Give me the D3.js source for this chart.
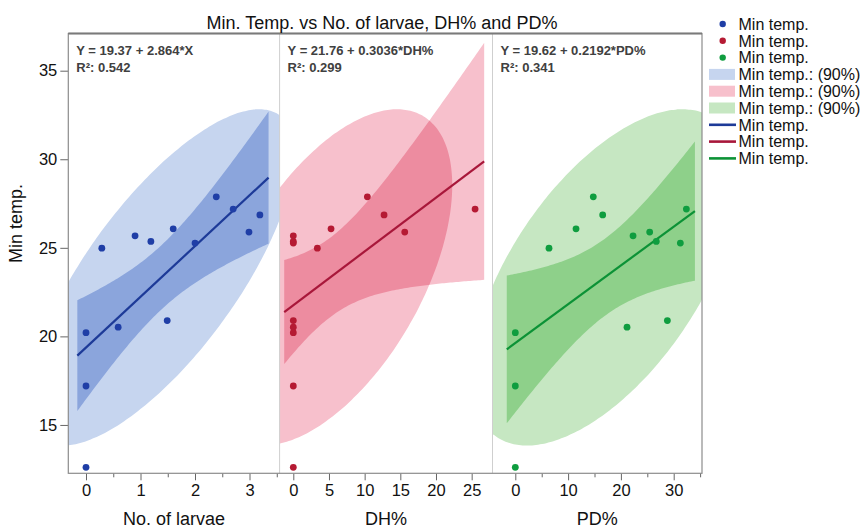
<!DOCTYPE html>
<html><head><meta charset="utf-8">
<script src="https://cdn.jsdelivr.net/npm/d3@7"></script>
<style>
body{margin:0;background:#fff}
svg{display:block}
text{font-family:"Liberation Sans",Arial,Helvetica,sans-serif}
</style>
</head><body>
<svg id="chart" width="865" height="528"></svg>
<script>
// ---------------- data ----------------
const minTemp = [12.61, 17.2, 20.21, 24.98, 20.52, 25.68, 25.36, 20.89, 26.07, 25.27, 27.88, 27.19, 25.89, 26.86];
const larvae  = [0, 0, 0, 0.29, 0.59, 0.9, 1.19, 1.49, 1.6, 2.0, 2.39, 2.7, 2.99, 3.19];
const dhPct   = [0, 0, 0, 3.37, 0, 0, 0, 0, 5.29, 0, 10.38, 25.48, 15.62, 12.72];
const pdPct   = [0, 0, 0, 6.38, 21.16, 22.3, 26.7, 28.8, 11.5, 31.26, 14.77, 32.4, 25.45, 16.55];

const xTitles    = ["No. of larvae", "DH%", "PD%"];
const intercepts = [19.37, 21.76, 19.62];
const slopes     = [2.864, 0.3036, 0.2192];
const eqTexts    = ["Y = 19.37 + 2.864*X", "Y = 21.76 + 0.3036*DH%", "Y = 19.62 + 0.2192*PD%"];
const r2Texts    = ["0.542", "0.299", "0.341"];

const yTicks      = [15, 20, 25, 30, 35];
const xMajorTicks = [[0, 1, 2, 3], [0, 5, 10, 15, 20, 25], [0, 10, 20, 30]];
const xMinorTicks = [[0.5, 1.5, 2.5, 3.5], [], [5, 15, 25, 35]];
const xDomains    = [[-0.325, 3.552], [-1.92, 27.92], [-4.32, 35.36]];
const yDomain     = [12.27, 37.1];

const title  = "Min. Temp. vs No. of larvae, DH% and PD%";
const yTitle = "Min temp.";
const legendLabels = ["Min temp.", "Min temp.", "Min temp.",
                      "Min temp.: (90%)", "Min temp.: (90%)", "Min temp.: (90%)",
                      "Min temp.", "Min temp.", "Min temp."];
const ellipseLevel = 0.90;   // density ellipse
const tCrit = 2.179;         // t(0.975, df = 12) for the fit confidence band

// ---------------- styling / layout ----------------
const pointColors = ["#1f3ea6", "#b51a33", "#0f9d3f"];
const lineColors  = ["#1d3a98", "#a8173a", "#0c9236"];
const lightFill   = ["#c6d5ef", "#f7c0cc", "#c6e7c2"];
const darkFill    = ["#8ba5dc", "#ed8ca0", "#8ed08a"];
const panelEdges  = [68.3, 279.6, 492.5, 702];
const plotTop = 33.5, plotBottom = 473.3;

const svg = d3.select("#chart");
const defs = svg.append("defs");
const y = d3.scaleLinear().domain(yDomain).range([plotBottom, plotTop]);
const xSeries = [larvae, dhPct, pdPct];

xSeries.forEach((xs, i) => {
  const left = panelEdges[i], right = panelEdges[i + 1];
  const x = d3.scaleLinear().domain(xDomains[i]).range([left, right]);
  const pts = xs.map((v, j) => ({x: v, y: minTemp[j]}));
  const n = pts.length;
  const mx = d3.mean(pts, d => d.x), my = d3.mean(pts, d => d.y);
  const sxx = d3.sum(pts, d => (d.x - mx) ** 2);
  const syy = d3.sum(pts, d => (d.y - my) ** 2);
  const sxy = d3.sum(pts, d => (d.x - mx) * (d.y - my));
  const sx = Math.sqrt(sxx / (n - 1)), sy = Math.sqrt(syy / (n - 1));
  const r = sxy / Math.sqrt(sxx * syy);
  const a = intercepts[i], b = slopes[i];
  const sse = d3.sum(pts, d => (d.y - a - b * d.x) ** 2);
  const s = Math.sqrt(sse / (n - 2));

  // clip to panel
  const clipId = "clip" + i;
  defs.append("clipPath").attr("id", clipId).append("rect")
    .attr("x", left).attr("y", plotTop).attr("width", right - left).attr("height", plotBottom - plotTop);

  // density ellipse
  const c = Math.sqrt(-2 * Math.log(1 - ellipseLevel));
  const ell = d3.range(0, 360, 2).map(deg => {
    const t = deg * Math.PI / 180;
    return [x(mx + c * sx * Math.cos(t)),
            y(my + c * sy * (r * Math.cos(t) + Math.sqrt(1 - r * r) * Math.sin(t)))];
  });
  const ellPath = d3.line().curve(d3.curveCardinalClosed)(ell);
  const ellClipId = "ell" + i;
  defs.append("clipPath").attr("id", ellClipId).append("path").attr("d", ellPath);

  // confidence band of the fit
  const xmin = d3.min(xs), xmax = d3.max(xs), pad = 0.05 * (xmax - xmin);
  const bx = d3.range(0, 101).map(k => xmin - pad + (xmax - xmin + 2 * pad) * k / 100);
  const band = bx.map(v => {
    const yh = a + b * v;
    const h = tCrit * s * Math.sqrt(1 / n + (v - mx) ** 2 / sxx);
    return {x: v, lo: yh - h, hi: yh + h, yh};
  });
  const area = d3.area().x(d => x(d.x)).y0(d => y(d.lo)).y1(d => y(d.hi));

  const g = svg.append("g").attr("clip-path", `url(#${clipId})`);
  g.append("path").attr("d", area(band)).attr("fill", lightFill[i]);
  g.append("path").attr("d", ellPath).attr("fill", lightFill[i]);
  g.append("g").attr("clip-path", `url(#${ellClipId})`)
    .append("path").attr("d", area(band)).attr("fill", darkFill[i]);

  g.append("path").datum([band[0], band[band.length - 1]])
    .attr("d", d3.line().x(d => x(d.x)).y(d => y(d.yh)))
    .attr("stroke", lineColors[i]).attr("stroke-width", 2.2).attr("fill", "none");

  g.selectAll("circle.pt").data(pts).join("circle").attr("class", "pt")
    .attr("cx", d => x(d.x)).attr("cy", d => y(d.y)).attr("r", 3.4)
    .attr("fill", pointColors[i]);

  // equation text
  svg.append("text").attr("x", left + 8).attr("y", 55)
    .attr("font-family", "'Open Sans', sans-serif").attr("font-weight", 600)
    .attr("font-size", 13).attr("fill", "#404040").text(eqTexts[i]);
  svg.append("text").attr("x", left + 8).attr("y", 72)
    .attr("font-family", "'Open Sans', sans-serif").attr("font-weight", 600)
    .attr("font-size", 13).attr("fill", "#404040").text("R²: " + r2Texts[i]);

  // x axis
  const axMaj = svg.append("g").attr("transform", `translate(0,${plotBottom})`)
    .call(d3.axisBottom(x).tickValues(xMajorTicks[i]).tickSize(7).tickPadding(4).tickFormat(d3.format("d")));
  const axMin = svg.append("g").attr("transform", `translate(0,${plotBottom})`)
    .call(d3.axisBottom(x).tickValues(xMinorTicks[i]).tickSize(4).tickFormat(""));
  [axMaj, axMin].forEach(ax => {
    ax.select(".domain").remove();
    ax.selectAll("line").attr("stroke", "#666");
  });
  axMaj.selectAll("text").attr("font-size", 16.5).attr("fill", "#111")
    .attr("font-family", "'Liberation Sans', Arial, sans-serif");

  svg.append("text").attr("x", (left + right) / 2).attr("y", 525)
    .attr("text-anchor", "middle").attr("font-size", 18).attr("fill", "#111")
    .text(xTitles[i]);
});

// y axis
const yAx = svg.append("g").attr("transform", `translate(${panelEdges[0]},0)`)
  .call(d3.axisLeft(y).tickValues(yTicks).tickSize(8).tickPadding(3).tickFormat(d3.format("d")));
yAx.select(".domain").remove();
yAx.selectAll("line").attr("stroke", "#666");
yAx.selectAll("text").attr("font-size", 16.5).attr("fill", "#111")
  .attr("font-family", "'Liberation Sans', Arial, sans-serif");

svg.append("text").attr("transform", `translate(22,${(plotTop + plotBottom) / 2 - 30}) rotate(-90)`)
  .attr("text-anchor", "middle").attr("font-size", 18).attr("fill", "#111").text(yTitle);

// frame and dividers
[panelEdges[1], panelEdges[2]].forEach(px => {
  svg.append("line").attr("x1", px).attr("x2", px).attr("y1", plotTop).attr("y2", plotBottom)
    .attr("stroke", "#cfcfcf").attr("stroke-width", 1);
});
svg.append("rect").attr("x", panelEdges[0]).attr("y", plotTop)
  .attr("width", panelEdges[3] - panelEdges[0]).attr("height", plotBottom - plotTop)
  .attr("fill", "none").attr("stroke", "#8c8c8c").attr("stroke-width", 1.2);
svg.append("line").attr("x1", panelEdges[0]).attr("x2", panelEdges[3]).attr("y1", plotTop).attr("y2", plotTop)
  .attr("stroke", "#7a7a7a").attr("stroke-width", 1.8);

// title
svg.append("text").attr("x", 382).attr("y", 28.5).attr("text-anchor", "middle")
  .attr("font-size", 18).attr("fill", "#111").text(title);

// legend
const lg = svg.append("g");
legendLabels.forEach((lab, k) => {
  const cy = 24 + k * 16.8;
  const ci = k % 3;
  if (k < 3) {
    lg.append("circle").attr("cx", 722.7).attr("cy", cy).attr("r", 3.2).attr("fill", pointColors[ci]);
  } else if (k < 6) {
    lg.append("rect").attr("x", 709).attr("y", cy - 5.5).attr("width", 26).attr("height", 11).attr("fill", lightFill[ci]);
  } else {
    lg.append("line").attr("x1", 709).attr("x2", 736).attr("y1", cy).attr("y2", cy)
      .attr("stroke", lineColors[ci]).attr("stroke-width", 2.6);
  }
  lg.append("text").attr("x", 738.5).attr("y", cy).attr("dy", "0.36em")
    .attr("font-size", 16).attr("fill", "#111").text(lab);
});
</script>
</body></html>
